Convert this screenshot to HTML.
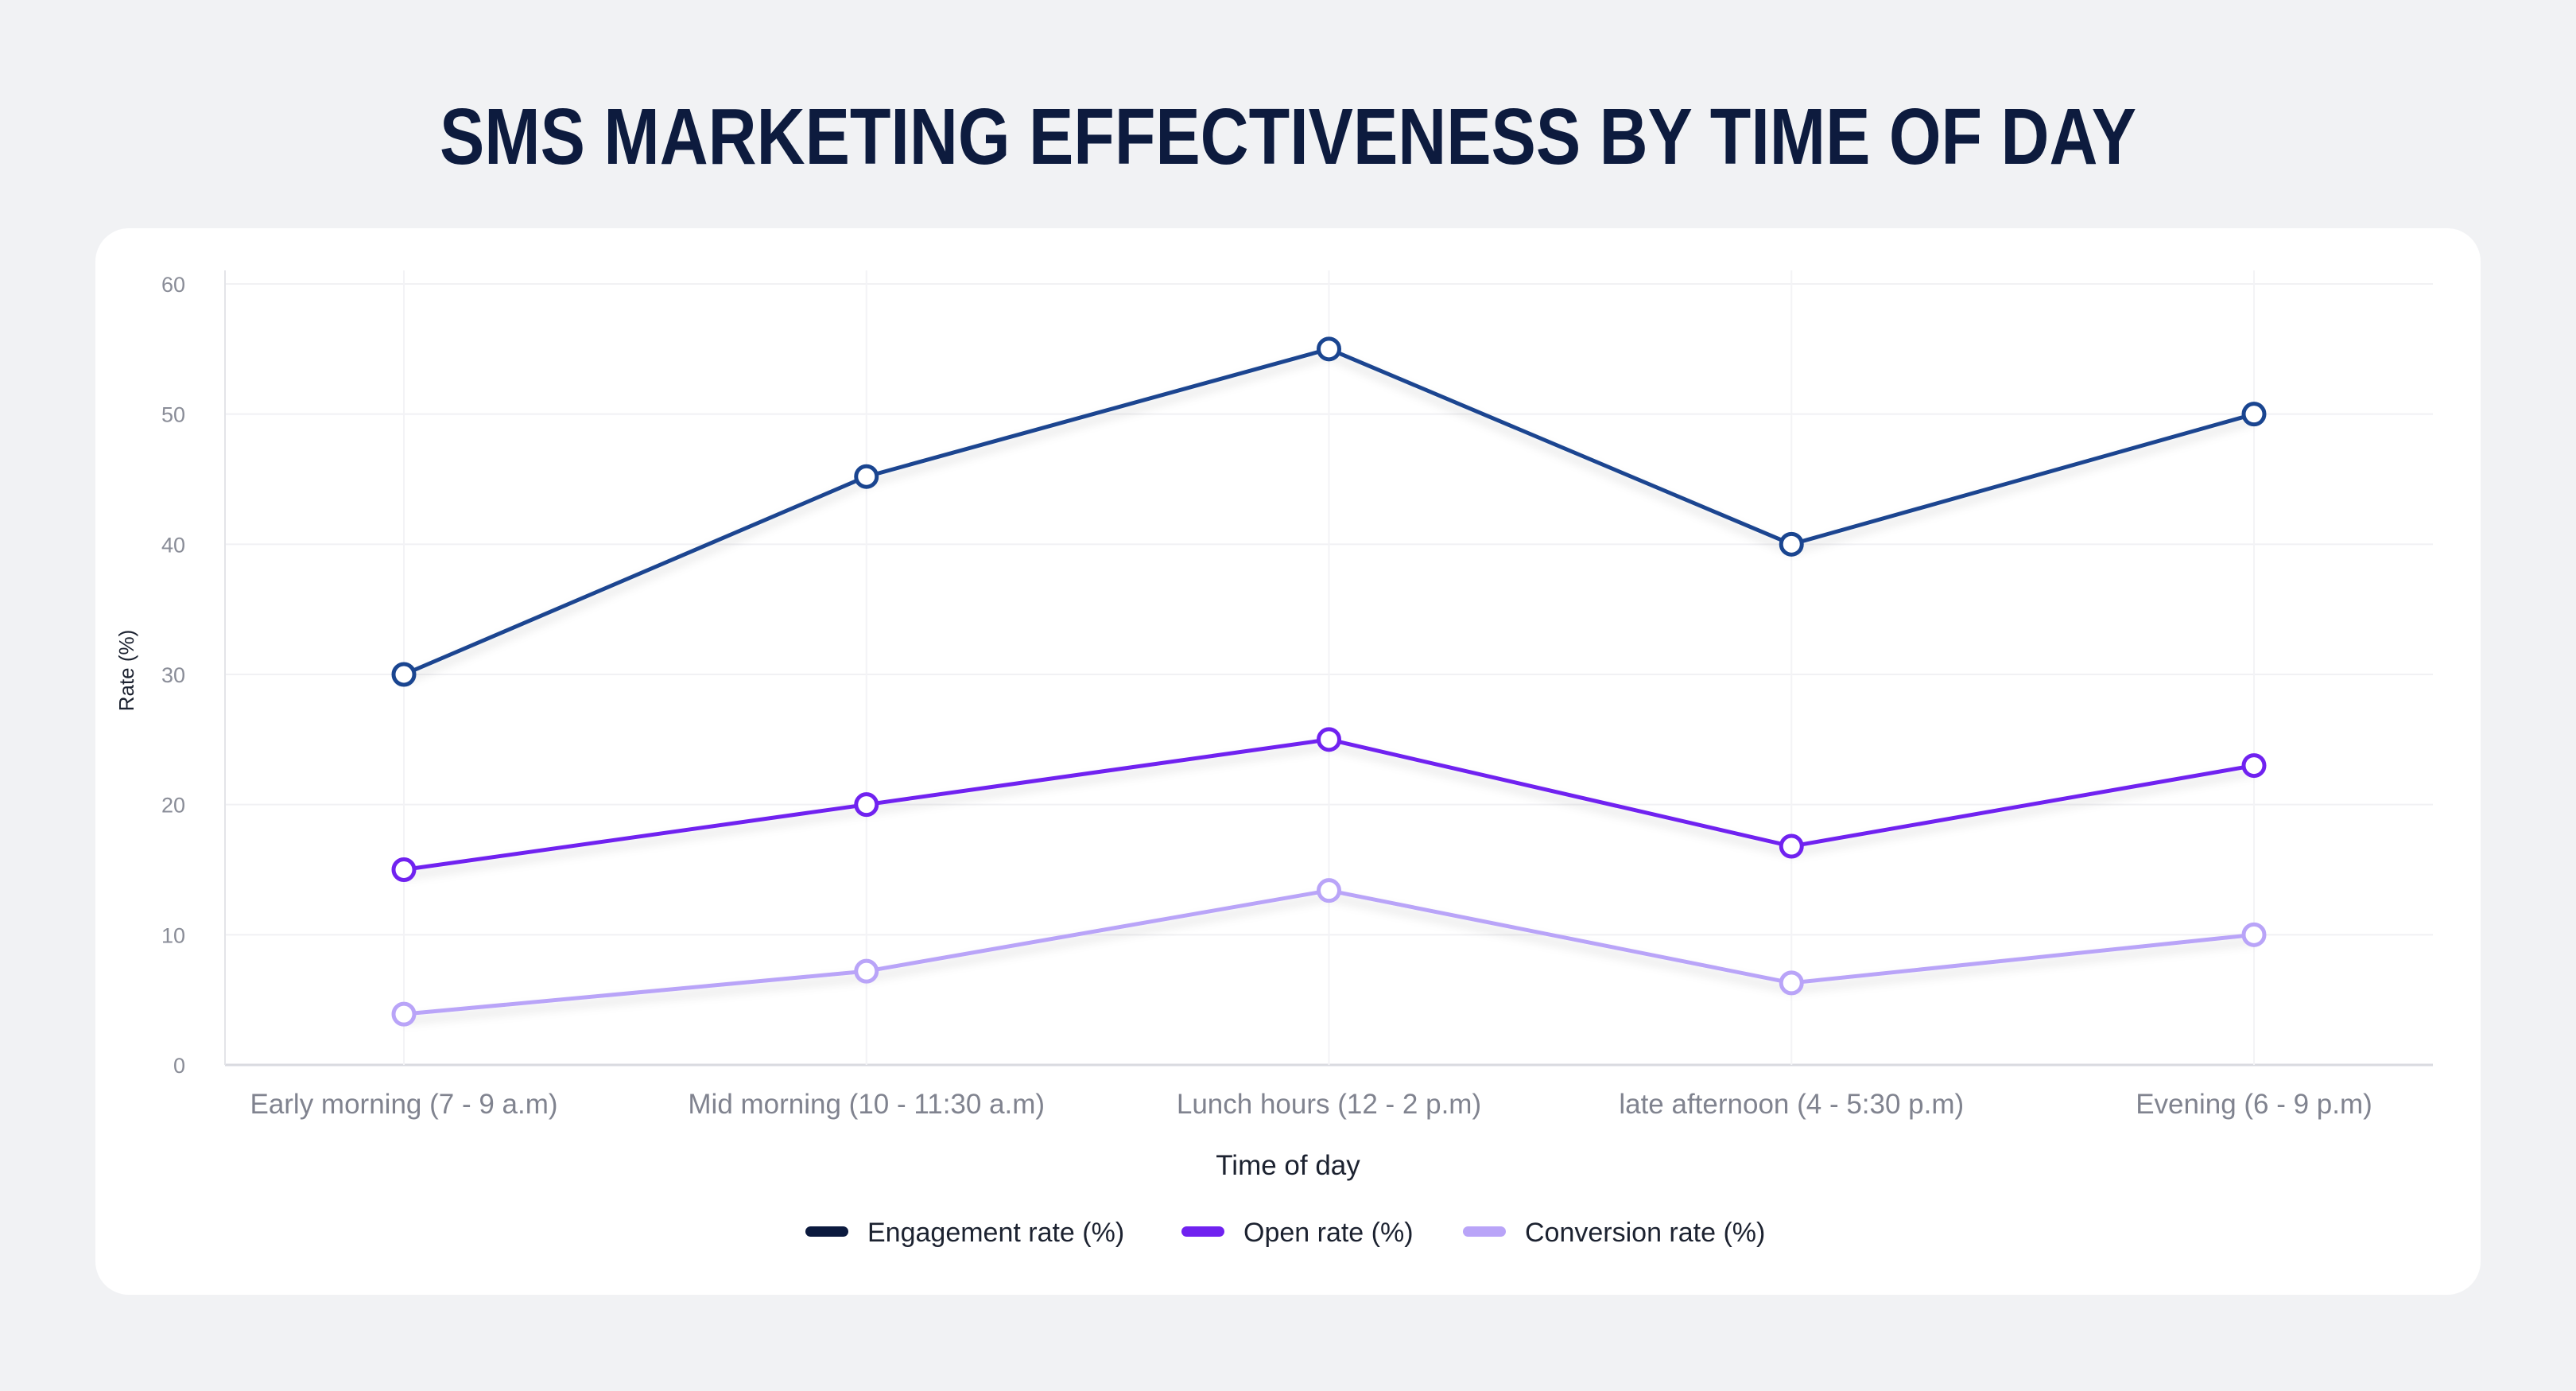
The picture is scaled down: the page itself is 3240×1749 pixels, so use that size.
<!DOCTYPE html>
<html><head><meta charset="utf-8">
<style>
html,body{margin:0;padding:0;background:#f1f2f4;}
body{width:3240px;height:1749px;overflow:hidden;position:relative;font-family:"Liberation Sans",sans-serif;}
</style></head>
<body>
<svg id="chart" width="3240" height="1749" xmlns="http://www.w3.org/2000/svg" style="position:absolute;left:0;top:0">
<defs>
<filter id="sh" x="-10%" y="-20%" width="120%" height="160%"><feDropShadow dx="0" dy="8" stdDeviation="6" flood-opacity="0.15"/></filter>
</defs>
<text x="1620" y="206" text-anchor="middle" font-family="Liberation Sans, sans-serif" font-weight="bold" font-size="100" fill="#0d1b3e" textLength="2134" lengthAdjust="spacingAndGlyphs">SMS MARKETING EFFECTIVENESS BY TIME OF DAY</text>
<rect x="120" y="287" width="3000" height="1341" rx="42" fill="#ffffff"/>
<g id="grid"></g>
<g id="series"></g>
<text transform="translate(168,843) rotate(-90)" text-anchor="middle" font-size="26" fill="#1c2230">Rate (%)</text>
<text x="1620" y="1477" text-anchor="middle" font-size="35" fill="#1c2230">Time of day</text>
<g id="legend"></g>
</svg>
<script>
const categories = ["Early morning (7 - 9 a.m)","Mid morning (10 - 11:30 a.m)","Lunch hours (12 - 2 p.m)","late afternoon (4 - 5:30 p.m)","Evening (6 - 9 p.m)"];
const engagement = [30, 45.2, 55, 40, 50];
const openRate = [15, 20, 25, 16.8, 23];
const conversion = [3.9, 7.2, 13.4, 6.3, 10];
const yTicks = [0,10,20,30,40,50,60];
const seriesNames = ["Engagement rate (%)","Open rate (%)","Conversion rate (%)"];

const NS="http://www.w3.org/2000/svg";
const plotL=283, plotR=3060, y0px=1339, y60px=357;
const xFirst=508, xLast=2835;
function xS(i){return xFirst+i*(xLast-xFirst)/(categories.length-1);}
function yS(v){return y0px-(v/60)*(y0px-y60px);}
function mk(tag,attrs,parent){const e=document.createElementNS(NS,tag);for(const k in attrs)e.setAttribute(k,attrs[k]);parent.appendChild(e);return e;}
const grid=document.getElementById('grid');
yTicks.forEach(t=>{
  const l=mk('line',{x1:plotL,x2:plotR,y1:yS(t),y2:yS(t),stroke:t===0?'#d9dae0':'#f1f1f4','stroke-width':t===0?3:2},grid);
  
  
  const tx=mk('text',{x:233,y:yS(t)+10,'text-anchor':'end','font-size':27,fill:'#8a8d98'},grid);
  tx.textContent=t;
  
  
});
const ax=mk('line',{x1:plotL,x2:plotL,y1:340,y2:y0px,stroke:'#e3e4e8','stroke-width':2},grid);


categories.forEach((c,i)=>{
  const l=mk('line',{x1:xS(i),x2:xS(i),y1:340,y2:y0px,stroke:'#f3f3f6','stroke-width':2},grid);
  
  
  const tx=mk('text',{x:xS(i),y:1400,'text-anchor':'middle','font-size':35,fill:'#80838f'},grid);
  tx.textContent=c;
  
  
});
const ser=document.getElementById('series');
const data=[conversion,openRate,engagement];
const colors=['#b9a4f8','#7022f0','#1a4590'];
const names=['conversion-rate','open-rate','engagement-rate'];
data.forEach((arr,si)=>{
  const pts=arr.map((v,i)=>xS(i)+','+yS(v)).join(' ');
  const pl=mk('polyline',{points:pts,fill:'none',stroke:colors[si],'stroke-width':5,'stroke-linejoin':'round',filter:'url(#sh)'},ser);
  
  
  arr.forEach((v,i)=>{
    const c=mk('circle',{cx:xS(i),cy:yS(v),r:13,fill:'#ffffff',stroke:colors[si],'stroke-width':5},ser);
    
    
  });
});
const lg=document.getElementById('legend');
const lcolors=['#0b1a3e','#7022f0','#b9a4f8'];
const lx=[1013,1486,1840];
seriesNames.forEach((n,i)=>{
  const g=mk('g',{},lg);
  
  
  mk('rect',{x:lx[i],y:1542,width:54,height:13,rx:6.5,fill:lcolors[i]},g);
  const t=mk('text',{x:lx[i]+78,y:1561,'font-size':34,fill:'#1c2230','font-weight':'500'},g);
  t.textContent=n;
});
</script>
</body></html>
